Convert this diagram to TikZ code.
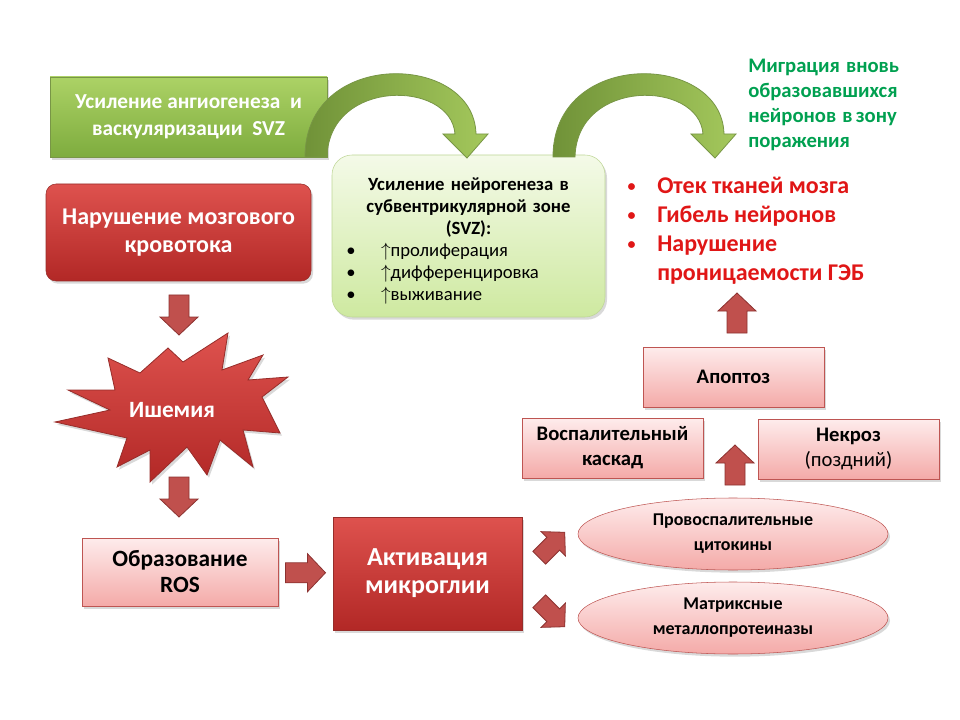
\documentclass[tikz,border=0pt]{standalone}
\usepackage{fontspec}
\setmainfont{Carlito}
\usetikzlibrary{shapes.geometric,shadows,calc}

\definecolor{darkred1}{RGB}{222,82,78}
\definecolor{darkred2}{RGB}{178,40,38}
\definecolor{redline}{RGB}{150,45,42}
\definecolor{pink1}{RGB}{254,236,236}
\definecolor{pink2}{RGB}{244,170,168}
\definecolor{pinkline}{RGB}{190,85,82}
\definecolor{arrowred}{RGB}{192,80,77}
\definecolor{arrowline}{RGB}{140,50,48}
\definecolor{grn1}{RGB}{172,210,102}
\definecolor{grn2}{RGB}{126,172,62}
\definecolor{grnline}{RGB}{120,150,70}
\definecolor{bendlight}{RGB}{164,200,92}
\definecolor{benddark}{RGB}{112,146,56}
\definecolor{limetop}{RGB}{244,250,232}
\definecolor{limebot}{RGB}{206,233,160}
\definecolor{limeedge}{RGB}{190,214,150}
\definecolor{migrgreen}{RGB}{0,160,80}
\definecolor{harmred}{RGB}{224,22,22}

% block arrow: position, angle, size
\newcommand{\blkarrow}[3]{%
  \draw[blkarr, shift={#1}, rotate=#2, scale=#3]
    (-20,-10) -- (2,-10) -- (2,-19) -- (20,0) -- (2,19) -- (2,10) -- (-20,10) -- cycle;}
% curved green arrow, shifted to the right by #1
\newcommand{\bendarrow}[1]{%
  \draw[bendarr, shift={(#1,0)}]
    (305,157) .. controls (305,48) and (474,52) .. (476,134) -- (488,134)
    -- (467,158) -- (443,134) -- (455,134)
    .. controls (451,80) and (329,78) .. (327,157) -- cycle;}
\newcommand{\nbul}{\makebox[30pt][l]{\hspace{4pt}\textbullet}}
\newcommand{\rbul}{\makebox[20.25pt][l]{\hspace{-2pt}\raisebox{1.5pt}{\fontsize{12pt}{12pt}\selectfont\textbullet}}}
\newlength{\migrw}

\begin{document}
\begin{tikzpicture}[
    x=0.75pt,
    y=-0.75pt,
    txt/.style 2 args={font=\fontsize{#1pt}{#2pt}\selectfont\bfseries},
    shade/.style={drop shadow={opacity=0.3, shadow xshift=1.5pt, shadow yshift=-2pt}},
    greenbox/.style={draw=grnline, top color=grn1, bottom color=grn2, text=white,
        align=center, inner sep=0pt, shade},
    neurobox/.style={draw=limeedge, rounded corners=15pt, top color=limetop,
        bottom color=limebot, align=left, inner ysep=0pt, inner xsep=6.75pt,
        minimum width=204.75pt, minimum height=121.5pt, text width=191.25pt, shade},
    darkbox/.style={draw=redline, top color=darkred1, bottom color=darkred2,
        text=white, align=center, inner sep=0pt, shade},
    pinkbox/.style={draw=pinkline, top color=pink1, bottom color=pink2,
        align=center, inner sep=0pt, minimum width=135.75pt, minimum height=45pt, shade},
    pinkoval/.style={ellipse, draw=pinkline, top color=pink1, bottom color=pink2,
        align=center, inner sep=0pt, minimum width=232.5pt, minimum height=54pt, shade},
    blkarr/.style={draw=arrowline, fill=arrowred, line width=0.6pt},
    bendarr/.style={draw=grnline, left color=benddark, right color=bendlight, line width=0.6pt},
    starshape/.style={draw=redline, top color=darkred1, bottom color=darkred2,
        line width=0.6pt, shade}
]
\useasboundingbox (0,0) rectangle (960,720);

% Top: angiogenesis and neurogenesis
\node[greenbox, minimum width=207.75pt, minimum height=60pt, txt={16}{20.5}]
    (angio) at (188.5,117) {Усиление ангиогенеза~ и\\васкуляризации~ SVZ};

\node[neurobox, txt={14}{16.5}] (neuro) at (468.5,236) {%
    \rule{0pt}{17pt}\makebox[191.25pt][c]{Усиление нейрогенеза в}\\
    \makebox[191.25pt][c]{субвентрикулярной зоне}\\
    \makebox[191.25pt][c]{(SVZ):}\\
    {\mdseries\nbul$\uparrow$пролиферация}\\
    {\mdseries\nbul$\uparrow$дифференцировка}\\
    {\mdseries\nbul$\uparrow$выживание}};

\node[txt={15.5}{18.75}, text=migrgreen, align=left, anchor=north west, inner sep=0pt]
    (migr) at (748,59) {\settowidth{\migrw}{образовавшихся}%
    \makebox[\migrw][s]{Миграция~ вновь}\\
    образовавшихся\\ \makebox[\migrw][s]{нейронов~ в зону}\\ поражения};

\node[txt={18}{21.75}, text=harmred, align=left, anchor=north west, inner sep=0pt]
    (harm) at (630,177) {\rbul Отек тканей мозга\\ \rbul Гибель нейронов\\
    \rbul Нарушение\\ \hspace*{20.25pt}проницаемости ГЭБ};

% Curved arrows
\bendarrow{0}
\bendarrow{248}

% Left column
\node[darkbox, rounded corners=7.5pt, minimum width=198.75pt, minimum height=72.75pt,
    txt={18}{21.5}] (flow) at (178.5,232.5) {Нарушение мозгового\\кровотока};

\draw[starshape] (108,358) -- (140,373) -- (168,348) -- (183,362) -- (228,333)
    -- (222,370) -- (263,355) -- (248,380) -- (288,377) -- (262,397) -- (280,433)
    -- (243,430) -- (253,467) -- (220,440) -- (207,475) -- (187,447) -- (150,482)
    -- (150,450) -- (117,467) -- (127,438) -- (55,422) -- (110,410) -- (68,390)
    -- (115,390) -- cycle;
\node[txt={17.5}{18}, text=white] (isch) at (172,410) {Ишемия};

\node[pinkbox, minimum width=147pt, minimum height=51pt, txt={17.5}{19.5}]
    (ros) at (180,572) {Образование\\ROS};

\node[darkbox, minimum width=141.75pt, minimum height=84.75pt, txt={19.5}{21}]
    (micro) at (427.5,573.5) {Активация\\микроглии};

% Right side
\node[pinkoval, txt={13.5}{18.75}] (cyto) at (733,534) {Провоспалительные\\цитокины};
\node[pinkoval, txt={13.5}{18.75}] (mmp) at (733,618) {Матриксные\\металлопротеиназы};

\node[pinkbox, txt={15.5}{18.75}] (casc) at (612.5,448) {Воспалительный\\каскад};
\node[pinkbox, txt={15.5}{18.75}] (necr) at (848.5,449) {Некроз\\{\mdseries(поздний)}};
\node[pinkbox, txt={15.5}{18.75}] (apop) at (733.5,377) {Апоптоз};

% Block arrows
\blkarrow{(179,315)}{-90}{1}
\blkarrow{(179,497)}{-90}{1}
\blkarrow{($(ros.east)!0.5!(micro.west)$)}{0}{1}
\blkarrow{(552,545)}{45}{0.9}
\blkarrow{(552,614)}{-45}{0.9}
\blkarrow{(735,465)}{90}{1}
\blkarrow{(737,313)}{90}{1}

\end{tikzpicture}
\end{document}
